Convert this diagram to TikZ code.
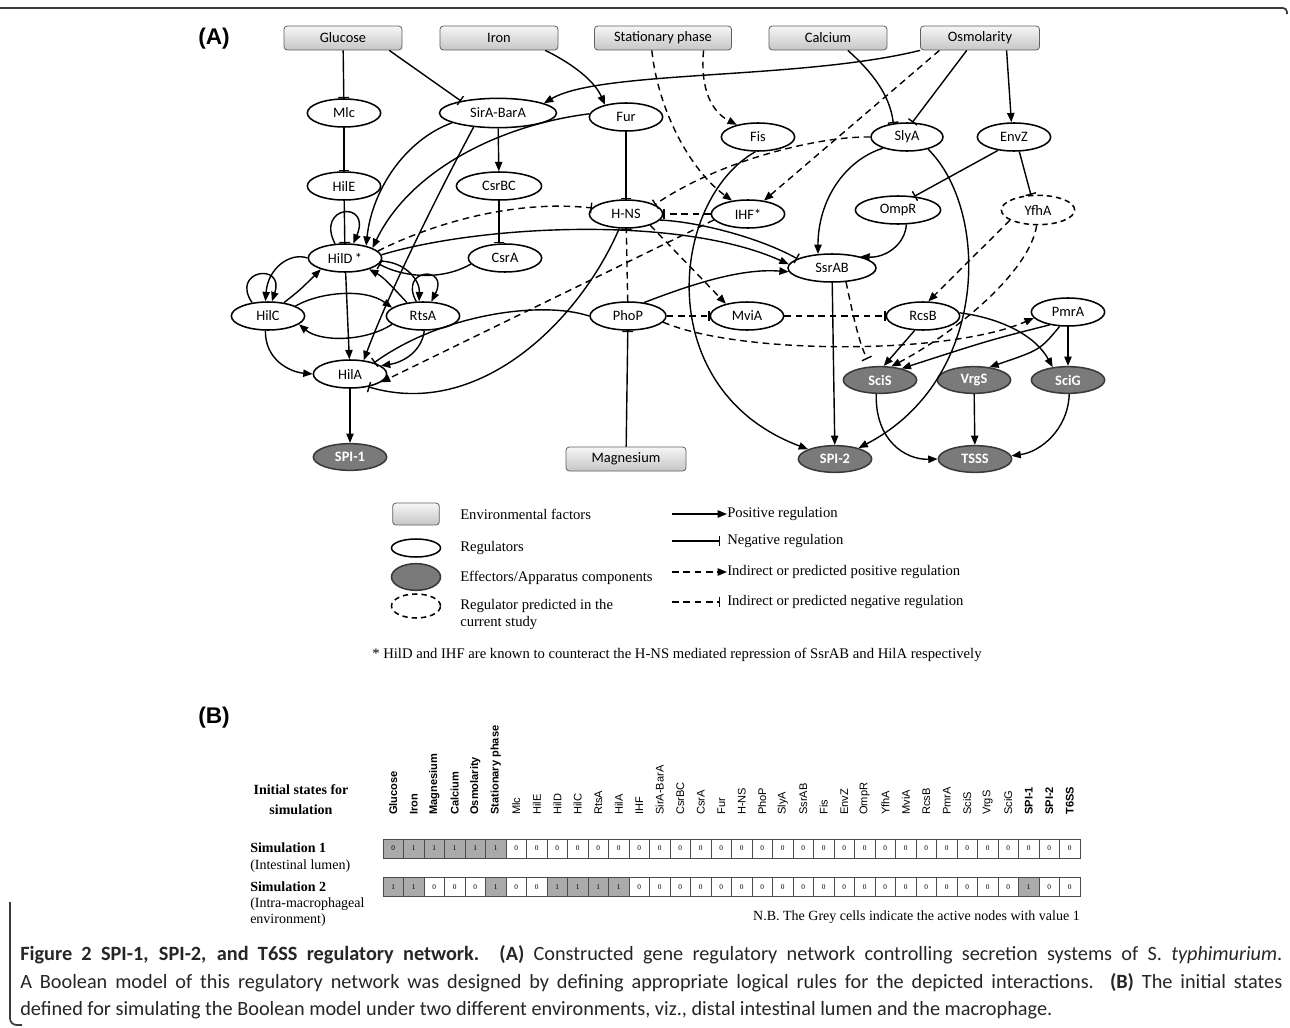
\documentclass[tikz,border=0pt]{standalone}
\usepackage{fontspec}
\setmainfont{Liberation Serif}
\newfontfamily\calfont{Carlito}
\newfontfamily\arfont{Liberation Sans}
\usetikzlibrary{arrows.meta, shapes.geometric}
\definecolor{envtop}{RGB}{246,246,246}
\definecolor{envbot}{RGB}{198,198,198}
\definecolor{effgray}{RGB}{122,122,122}
\definecolor{cellgray}{RGB}{170,170,170}
\definecolor{framegray}{RGB}{60,60,60}

\tikzset{
  netfont/.style={font=\calfont\fontsize{10.8}{12}\selectfont},
  envbox/.style={rectangle, rounded corners=2.5pt, draw=gray!75!black, line width=0.6pt,
    top color=envtop, bottom color=envbot, minimum width=88.5pt, minimum height=18pt,
    inner sep=0pt, netfont},
  reg/.style={ellipse, draw, line width=1.15pt, minimum width=55pt, minimum height=21pt,
    inner sep=0pt, netfont},
  eff/.style={reg, fill=effgray, draw=gray!45!black, text=white, minimum height=20pt,
    font=\calfont\bfseries\fontsize{10.8}{12}\selectfont},
  pred/.style={reg, dash pattern=on 4pt off 3pt},
  link/.style={line width=1.05pt},
  upreg/.style={link, -{Triangle[length=7pt,width=5.5pt]}},
  downreg/.style={link, -{Bar[width=8pt]}},
  indirect/.style={dash pattern=on 5pt off 3.5pt},
  legtext/.style={anchor=west, inner sep=0pt, font=\fontsize{11}{12.75}\selectfont},
  colhead/.style={rotate=90, anchor=west, inner sep=0pt, font=\arfont\fontsize{8.3}{9}\selectfont},
  cell/.style={draw=gray!60!black, line width=0.5pt, minimum width=15.375pt,
    minimum height=14.25pt, inner sep=0pt, font=\fontsize{5.5}{6}\selectfont},
  rowlab/.style={anchor=west, inner sep=0pt, font=\fontsize{10.5}{12}\selectfont},
  panel/.style={font=\arfont\bfseries\fontsize{17}{19}\selectfont},
  capline/.style={anchor=west, inner sep=0pt, text=black!85, font=\calfont\fontsize{15.2}{17}\selectfont},
}

\begin{document}
\begin{tikzpicture}[x=0.75pt, y=-0.75pt]
\useasboundingbox (0,0) rectangle (1290,1028);
\fill[white] (0,0) rectangle (1290,1028);

% === Frame ===
\draw[framegray, line width=1.3pt, rounded corners=3pt] (0,8) -- (1287,8) -- (1287,14);
\draw[framegray, line width=1.3pt, rounded corners=5pt] (10,902) -- (10,1025) -- (22,1025);

% === Panel (A): network ===
\node[panel] (panA) at (214,39) {(A)};

% Environmental factors
\node[envbox] (glucose) at (343,38) {Glucose};
\node[envbox] (iron) at (499,38) {Iron};
\node[envbox, minimum width=102.75pt] (stat) at (663,38) {Stationary phase};
\node[envbox] (calcium) at (828,38) {Calcium};
\node[envbox, minimum width=89.25pt] (osmo) at (980,38) {Osmolarity};
\node[envbox, minimum width=90pt] (magnesium) at (626,459) {Magnesium};

% Regulators
\node[reg] (mlc) at (344,113) {Mlc};
\node[reg, minimum width=87.75pt, minimum height=22pt] (sira) at (498,113) {SirA-BarA};
\node[reg] (fur) at (626,117) {Fur};
\node[reg] (fis) at (758,137) {Fis};
\node[reg, minimum width=54pt] (slya) at (907,137) {SlyA};
\node[reg] (envz) at (1014,137) {EnvZ};
\node[reg] (hile) at (344,186) {HilE};
\node[reg, minimum width=64pt] (csrbc) at (499,186) {CsrBC};
\node[reg] (hns) at (626,214) {H-NS};
\node[reg] (ihf) at (748,214) {IHF*};
\node[reg, minimum width=64pt] (ompr) at (898,210) {OmpR};
\node[pred, minimum height=22pt] (yfha) at (1038,210) {YfhA};
\node[reg] (hild) at (345,258) {HilD\,*};
\node[reg] (csra) at (505,258) {CsrA};
\node[reg, minimum width=66pt] (ssrab) at (832,268) {SsrAB};
\node[reg] (hilc) at (268,316) {HilC};
\node[reg] (rtsa) at (423,316) {RtsA};
\node[reg, minimum width=57pt] (phop) at (628,316) {PhoP};
\node[reg] (mvia) at (747,316) {MviA};
\node[reg] (rcsb) at (923,316) {RcsB};
\node[reg] (pmra) at (1068,312) {PmrA};
\node[reg] (hila) at (350,374) {HilA};

% Effectors / apparatus
\node[eff] (scis) at (880,380) {SciS};
\node[eff] (vrgs) at (974,380) {VrgS};
\node[eff] (scig) at (1068,380) {SciG};
\node[eff] (spione) at (350,457) {SPI-1};
\node[eff] (spitwo) at (835,459) {SPI-2};
\node[eff] (tsss) at (975,459) {TSSS};

% --- inputs from the environment
\draw[downreg] (glucose) -- (mlc);
\draw[downreg] (glucose.-15) -- (sira.162);
\draw[upreg] (iron.-15) .. controls (575,65) and (595,82) .. (fur.150);
\draw[upreg] (osmo.south west) .. controls (800,80) and (600,70) .. (sira.12);
\draw[upreg, indirect] (stat.-132) .. controls (658,110) and (690,170) .. (ihf.140);
\draw[upreg, indirect] (stat.-17) .. controls (700,90) and (712,112) .. (fis.150);
\draw[downreg] (calcium.-32) .. controls (872,72) and (890,95) .. (slya.135);
\draw[downreg] (osmo.-137) -- (slya.70);
\draw[upreg, indirect] (osmo.-163) -- (ihf.40);
\draw[upreg] (osmo.-25) -- (envz.100);
\draw[downreg] (magnesium) -- (phop);

% --- SPI-1 module
\draw[downreg] (mlc) -- (hile);
\draw[downreg] (hile) -- (hild);
\draw[upreg] (hild.125) .. controls (315,205) and (372,200) .. (hild.60);
\draw[upreg] (sira.192) .. controls (405,140) and (372,190) .. (hild.30);
\draw[upreg] (fur.175) .. controls (500,125) and (410,170) .. (hild.20);
\draw[upreg] (sira.210) .. controls (440,190) and (390,290) .. (hila.45);
\draw[upreg] (sira) -- (csrbc);
\draw[downreg] (csrbc.south) -- (csrbc.south |- csra.north);
\draw[downreg] (fur) -- (hns);
\draw[downreg, indirect] (hild.12) .. controls (440,220) and (520,200) .. (hns.170);
\draw[upreg] (hild.5) .. controls (480,225) and (680,215) .. (ssrab.175);
\draw[downreg] (hns.-10) .. controls (700,222) and (760,238) .. (ssrab.165);
\draw[upreg] (hilc.140) .. controls (230,270) and (285,262) .. (hilc.75);
\draw[upreg] (hild.180) .. controls (290,252) and (268,268) .. (hilc.100);
\draw[upreg] (hilc.40) .. controls (300,290) .. (hild.205);
\draw[upreg] (rtsa.115) .. controls (398,268) and (450,265) .. (rtsa.60);
\draw[upreg] (hild.-5) .. controls (405,262) and (420,280) .. (rtsa.105);
\draw[upreg] (rtsa.140) .. controls (395,290) and (385,278) .. (hild.-25);
\draw[downreg] (csra.190) .. controls (440,282) and (400,276) .. (hild.-10);
\draw[upreg] (hilc.20) .. controls (320,292) and (365,288) .. (rtsa.165);
\draw[upreg] (rtsa.195) .. controls (365,342) and (320,342) .. (hilc.-15);
\draw[upreg] (hild) -- (hila);
\draw[upreg] (hilc.260) .. controls (265,360) and (290,372) .. (hila.west);
\draw[upreg] (rtsa.275) .. controls (422,350) and (405,362) .. (hila.15);
\draw[downreg] (phop.west) .. controls (540,300) and (440,315) .. (hila.25);
\draw[upreg, indirect] (ihf.190) -- (hila.-15);
\draw[downreg, indirect] (ihf) -- (hns);
\draw[downreg, indirect] (slya.west) .. controls (820,136) and (720,160) .. (hns.18);
\draw[upreg] (fis.260) .. controls (670,200) and (650,390) .. (spitwo.160);
\draw[downreg] (hns.245) .. controls (580,320) and (480,420) .. (hila.-35);
\draw[downreg, indirect] (phop) -- (hns);
\draw[upreg] (hila) -- (spione);

% --- SPI-2 / T6SS module
\draw[upreg] (phop.40) .. controls (690,285) and (740,268) .. (ssrab.185);
\draw[upreg, indirect] (hns.-25) -- (mvia.150);
\draw[downreg, indirect] (phop) -- (mvia);
\draw[downreg, indirect] (mvia) -- (rcsb);
\draw[upreg, indirect] (phop.-10) .. controls (740,355) and (950,355) .. (pmra.190);
\draw[upreg] (ssrab) -- (spitwo);
\draw[downreg, indirect, shorten >=6pt] (ssrab.-45) .. controls (852,310) and (858,340) .. (scis.125);
\draw[upreg] (ompr.-60) .. controls (905,245) and (885,258) .. (ssrab.22);
\draw[upreg] (slya.205) .. controls (845,160) and (818,200) .. (ssrab.135);
\draw[upreg] (slya.-30) .. controls (990,210) and (990,380) .. (spitwo.25);
\draw[downreg] (envz.220) -- (ompr.40);
\draw[downreg] (envz.-70) -- (yfha.115);
\draw[upreg, indirect] (yfha.200) -- (rcsb.70);
\draw[upreg, indirect] (yfha.-95) .. controls (1030,270) and (960,330) .. (scis.50);
\draw[upreg] (rcsb.240) -- (scis.75);
\draw[upreg] (rcsb.5) .. controls (1000,318) and (1035,335) .. (scig.140);
\draw[upreg] (pmra.215) .. controls (990,340) .. (scis.28);
\draw[upreg] (pmra.240) .. controls (1040,350) .. (vrgs.40);
\draw[upreg] (pmra) -- (scig);
\draw[upreg] (scis.-105) .. controls (875,440) and (905,460) .. (tsss.west);
\draw[upreg] (vrgs) -- (tsss);
\draw[upreg] (scig.-85) .. controls (1068,430) and (1040,452) .. (tsss.5);

% === Legend ===
\node[envbox, minimum width=35pt, minimum height=16.5pt] (lgenv) at (416,514) {};
\node[reg, minimum width=36.75pt, minimum height=13.5pt] (lgreg) at (416,548) {};
\node[eff, minimum width=36.75pt, minimum height=20pt] (lgeff) at (416,577) {};
\node[pred, minimum width=36.75pt, minimum height=18pt] (lgpred) at (416,606) {};
\node[legtext] (lgenvtxt) at (460,514) {Environmental factors};
\node[legtext] (lgregtxt) at (460,548) {Regulators};
\node[legtext] (lgefftxt) at (460,578) {Effectors/Apparatus components};
\node[legtext, align=left] (lgpredtxt) at (460,614) {Regulator predicted in the\\current study};

\node[legtext] (lgpostxt) at (727,514) {Positive regulation};
\node[legtext] (lgnegtxt) at (727,541) {Negative regulation};
\node[legtext] (lgipostxt) at (727,572) {Indirect or predicted positive regulation};
\node[legtext] (lginegtxt) at (727,602) {Indirect or predicted negative regulation};
\coordinate (lgpos) at (672,514);
\coordinate (lgneg) at (672,541);
\coordinate (lgipos) at (672,572);
\coordinate (lgineg) at (672,602);
\draw[upreg] (lgpos) -- (lgpostxt.west);
\draw[downreg] (lgneg) -- ([xshift=-5pt]lgnegtxt.west);
\draw[upreg, indirect] (lgipos) -- (lgipostxt.west);
\draw[downreg, indirect] (lgineg) -- ([xshift=-5pt]lginegtxt.west);

\node[legtext] (footnote) at (372,655) {* HilD and IHF are known to counteract the H-NS mediated repression of SsrAB and HilA respectively};

% === Panel (B): initial states ===
\node[panel] (panB) at (214,718) {(B)};

\foreach \lab/\isb [count=\i] in {Glucose/1, Iron/1, Magnesium/1, Calcium/1, Osmolarity/1,
    Stationary phase/1, Mlc/0, HilE/0, HilD/0, HilC/0, RtsA/0, HilA/0, IHF/0, SirA-BarA/0,
    CsrBC/0, CsrA/0, Fur/0, H-NS/0, PhoP/0, SlyA/0, SsrAB/0, Fis/0, EnvZ/0, OmpR/0, YfhA/0,
    MviA/0, RcsB/0, PmrA/0, SciS/0, VrgS/0, SciG/0, SPI-1/1, SPI-2/1, T6SS/1}
  \node[colhead] (col\i) at ({383+(\i-0.5)*20.5},815) {\ifnum\isb=1 \bfseries\fi\lab};

% Simulation 1
\foreach \v [count=\i] in {0,1,1,1,1,1,0,0,0,0,0,0,0,0,0,0,0,0,0,0,0,0,0,0,0,0,0,0,0,0,0,0,0,0} {
  \ifnum\i<7 \def\cf{cellgray}\else\ifnum\v=1 \def\cf{cellgray}\else\def\cf{white}\fi\fi
  \node[cell, fill=\cf] (sa\i) at ({383+(\i-0.5)*20.5},848.5) {\v};
}
% Simulation 2
\foreach \v [count=\i] in {1,1,0,0,0,1,0,0,1,1,1,1,0,0,0,0,0,0,0,0,0,0,0,0,0,0,0,0,0,0,0,1,0,0} {
  \ifnum\v=1 \def\cf{cellgray}\else\def\cf{white}\fi
  \node[cell, fill=\cf] (sb\i) at ({383+(\i-0.5)*20.5},887) {\v};
}

\node[rowlab, anchor=center, align=center, font=\bfseries\fontsize{10.5}{15}\selectfont] (tabhead) at (301,800) {Initial states for\\simulation};
\node[rowlab, font=\bfseries\fontsize{10.5}{12}\selectfont] (simone) at (250,848) {Simulation 1};
\node[rowlab] (simonesub) at (250,866) {(Intestinal lumen)};
\node[rowlab, font=\bfseries\fontsize{10.5}{12}\selectfont] (simtwo) at (250,887) {Simulation 2};
\node[rowlab] (simtwosub) at (250,904) {(Intra-macrophageal};
\node[rowlab] (simtwoenv) at (250,920) {environment)};
\node[rowlab, anchor=east] (nbnote) at (1080,917) {N.B. The Grey cells indicate the active nodes with value 1};

% === Caption ===
\node[capline] (capone) at (20,955) {\makebox[946.5pt][s]{\textbf{Figure 2 SPI-1, SPI-2, and T6SS regulatory network. (A)} Constructed gene regulatory network controlling secretion systems of S. \textit{typhimurium}.}};
\node[capline] (captwo) at (20,983) {\makebox[946.5pt][s]{A Boolean model of this regulatory network was designed by defining appropriate logical rules for the depicted interactions. \textbf{(B)} The initial states}};
\node[capline] (capthree) at (20,1010) {defined for simulating the Boolean model under two different environments, viz., distal intestinal lumen and the macrophage.};

\end{tikzpicture}
\end{document}
